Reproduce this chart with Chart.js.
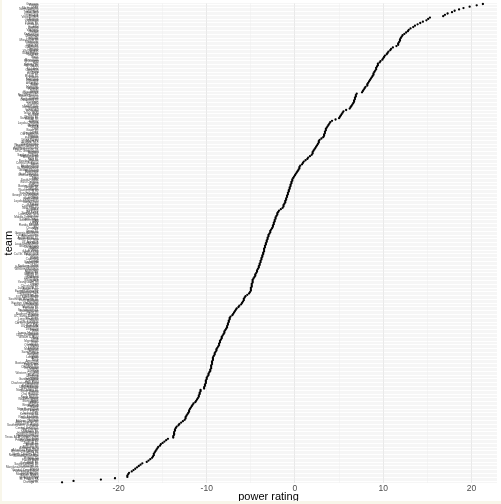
<!DOCTYPE html>
<html>
<head>
<meta charset="utf-8">
<script src="https://cdn.jsdelivr.net/npm/chart.js@4.4.1/dist/chart.umd.min.js"></script>
<style>
  html, body { margin: 0; padding: 0; background: #f8f6ea; }
  #wrap { position: absolute; left: 2px; top: 0; width: 499px; height: 504px; background: #ffffff; }
  #strip { position: absolute; left: 0; top: 501px; width: 501px; height: 3px; background: #f8f6ea; }
</style>
</head>
<body>
<div id="wrap"><canvas id="chart" width="499" height="504"></canvas></div>
<div id="strip"></div>
<script>
// teams, best to worst (top of the plot to the bottom)
const teams = [
  'Gonzaga', 'Virginia', 'Duke', 'Michigan St.', 'North Carolina', 'Michigan', 'Texas Tech', 'Kentucky', 'Tennessee', 'Purdue',
  'Virginia Tech', 'Auburn', 'Houston', 'Wisconsin', 'Iowa St.', 'Florida St.', 'LSU', 'Kansas', 'Wofford', 'Villanova',
  'Buffalo', 'Oregon', 'Kansas St.', 'Maryland', 'Cincinnati', 'Louisville', 'Florida', 'Mississippi St.', 'Marquette', 'Nevada',
  'Syracuse', 'Utah St.', 'Oklahoma', 'Clemson', 'Baylor', 'Washington', "Saint Mary's", 'NC State', 'Ohio St.', 'Texas',
  'Iowa', 'Minnesota', 'Mississippi', 'VCU', 'Seton Hall', 'Arizona St.', "St. John's", 'TCU', 'Alabama', 'Creighton',
  'Belmont', 'UCF', 'Penn St.', 'Murray St.', 'Indiana', 'Nebraska', 'Lipscomb', 'Temple', 'Arkansas', 'Butler',
  'Xavier', 'Memphis', 'Colorado', 'Furman', 'Toledo', 'Providence', 'Georgetown', 'New Mexico St.', 'South Carolina', 'Dayton',
  'Northwestern', 'Oklahoma St.', 'Davidson', 'USC', 'Missouri', 'Saint Louis', 'Notre Dame', 'Georgia', 'Vanderbilt', 'UC Irvine',
  'Texas A&M', 'Yale', 'Harvard', 'Wichita St.', 'San Diego St.', 'Fresno St.', 'Liberty', 'Hofstra', 'Loyola Chicago', 'Stanford',
  'Arizona', 'UCLA', 'Utah', 'Boise St.', 'Drake', 'Georgia St.', 'Old Dominion', 'Rutgers', 'Illinois', 'Pittsburgh',
  'Wake Forest', 'Miami FL', 'Georgia Tech', 'West Virginia', 'Western Kentucky', 'South Dakota St.', 'Northern Kentucky', 'East Tennessee St.', 'UNC Greensboro', 'Vermont',
  'Bradley', 'Southern Illinois', 'Northern Iowa', 'Missouri St.', 'Kent St.', 'Ball St.', 'Bowling Green', 'Central Michigan', 'Akron', 'Northeastern',
  'Rhode Island', 'St. Bonaventure', 'George Mason', 'Richmond', 'Duquesne', "Saint Joseph's", 'Massachusetts', 'UConn', 'Tulsa', 'SMU',
  'South Florida', 'East Carolina', 'Tulane', 'DePaul', 'Boston College', 'Oregon St.', 'California', 'Washington St.', 'BYU', 'San Francisco',
  'Fordham', 'George Washington', 'La Salle',
  'San Diego', 'Pepperdine', 'Loyola Marymount', 'Santa Clara', 'Pacific', 'Portland', 'Colorado St.', 'New Mexico', 'UNLV', 'Wyoming',
  'Air Force', 'San Jose St.', 'Louisiana Tech', 'Marshall', 'Middle Tennessee', 'North Texas', 'Southern Miss', 'UAB', 'UTEP', 'UTSA',
  'Florida Atlantic', 'FIU', 'Charlotte', 'Rice', 'Texas St.', 'Louisiana', 'Georgia Southern', 'Coastal Carolina', 'Arkansas St.', 'Appalachian St.',
  'South Alabama', 'Troy', 'UT Arlington', 'Little Rock', 'Louisiana Monroe', 'Grand Canyon', 'Cal Baptist', 'Seattle', 'UTRGV', 'Utah Valley',
  'Kansas City', 'Cal St. Bakersfield', 'Princeton', 'Penn', 'Brown', 'Columbia', 'Cornell', 'Dartmouth', 'Miami OH', 'Ohio',
  'Northern Illinois', 'Eastern Michigan', 'Western Michigan', 'Valparaiso', 'Evansville', 'Illinois St.', 'Indiana St.', 'Wright St.', 'Oakland', 'Green Bay',
  'Milwaukee', 'IUPUI', 'Youngstown St.', 'Detroit', 'UIC', 'Cleveland St.', 'Jacksonville St.', 'Austin Peay', 'Eastern Kentucky', 'Morehead St.',
  'Tennessee Tech', 'Tennessee St.', 'UT Martin', 'SIU Edwardsville', 'Southeast Missouri St.', 'Eastern Illinois', 'Montana', 'Eastern Washington', 'Weber St.', 'Northern Colorado',
  'Montana St.', 'Portland St.', 'Sacramento St.', 'Southern Utah', 'Idaho St.', 'Northern Arizona', 'Idaho', 'UC Santa Barbara', 'UC Davis', 'Long Beach St.',
  'Hawaii', 'Cal St. Fullerton', 'Cal St. Northridge', 'Cal Poly', 'UC Riverside', 'Charleston', 'Delaware', 'Drexel', 'Elon', 'James Madison',
  'Towson', 'UNC Wilmington', 'William & Mary', 'Iona', 'Siena', 'Monmouth', 'Rider', 'Canisius', 'Quinnipiac', 'Marist',
  'Fairfield', 'Manhattan', 'Niagara', "Saint Peter's", 'Colgate', 'Bucknell', 'Lehigh', 'Lafayette', 'Army', 'Navy',
  'American', 'Boston University', 'Holy Cross', 'Loyola MD', 'Chattanooga', 'The Citadel', 'Mercer', 'Samford', 'VMI', 'Western Carolina',
  'Radford', 'Winthrop', 'Campbell', 'Gardner-Webb', 'Hampton', 'High Point', 'Charleston Southern', 'Longwood', 'Presbyterian', 'UNC Asheville',
  'USC Upstate', 'North Dakota St.', 'South Dakota', 'Omaha', 'Oral Roberts', 'Denver', 'North Dakota', 'Fort Wayne', 'Western Illinois', 'Stony Brook',
  'UMBC', 'Albany', 'Binghamton', 'Hartford', 'Maine', 'New Hampshire', 'UMass Lowell', 'FGCU', 'Jacksonville', 'Kennesaw St.',
  'NJIT', 'North Alabama', 'North Florida', 'Stetson', 'Abilene Christian', 'Sam Houston St.', 'Stephen F. Austin', 'Southeastern Louisiana', 'Lamar', 'Central Arkansas',
  'New Orleans', 'Nicholls St.', 'McNeese St.', 'Houston Baptist', 'Northwestern St.', 'Incarnate Word', 'Texas A&M Corpus Chris', 'Texas Southern', 'Prairie View A&M', 'Grambling St.',
  'Jackson St.', 'Southern', 'Alcorn St.', 'Alabama St.', 'Alabama A&M', 'Arkansas Pine Bluff', 'Mississippi Valley St.', 'Norfolk St.', 'North Carolina A&T', 'North Carolina Central',
  'Bethune-Cookman', 'Morgan St.', 'Howard', 'Florida A&M', 'Coppin St.', 'Savannah St.', 'South Carolina St.', 'Delaware St.', 'Maryland-Eastern Shore', 'Bryant',
  'Central Connecticut', 'Fairleigh Dickinson', 'LIU Brooklyn', "Mount St. Mary's", 'Robert Morris', 'Sacred Heart', 'St. Francis NY', 'St. Francis PA', 'Wagner', 'Chicago St.'
];

// power rating, same order as teams
const rating = [
  21.3, 20.6, 19.8, 19.1, 18.6, 18.1, 17.8, 17.3, 17.0, 16.8,
  15.3, 15.1, 14.9, 14.5, 14.2, 13.9, 13.6, 13.4, 13.1, 12.9,
  12.8, 12.6, 12.4, 12.2, 12.1, 12.0, 11.9, 11.9, 11.8, 11.7,
  11.7, 11.5, 11.1, 10.9, 10.8, 10.6, 10.5, 10.4, 10.2, 10.1,
  10.0, 9.9, 9.7, 9.6, 9.4, 9.4, 9.3, 9.2, 9.2, 9.1,
  9.0, 8.9, 8.9, 8.8, 8.7, 8.6, 8.5, 8.4, 8.3, 8.2,
  8.2, 8.0, 7.9, 7.8, 7.7, 7.6, 7.0, 6.9, 6.9, 6.8,
  6.8, 6.7, 6.7, 6.6, 6.5, 6.4, 6.3, 6.2, 5.8, 5.5,
  5.4, 5.3, 5.2, 5.1, 5.0, 4.6, 4.2, 4.0, 3.9, 3.8,
  3.7, 3.6, 3.5, 3.5, 3.4, 3.4, 3.3, 3.3, 3.2, 3.0,
  2.8, 2.7, 2.7, 2.6, 2.5, 2.4, 2.3, 2.2, 2.1, 2.0,
  2.0, 1.9, 1.7, 1.5, 1.4, 1.2, 1.0, 0.9, 0.8, 0.6,
  0.5, 0.5, 0.4, 0.3, 0.2, 0.1, 0.0, -0.1, -0.2, -0.3,
  -0.3, -0.4, -0.4, -0.5, -0.5, -0.6, -0.6, -0.7, -0.7, -0.8,
  -0.8, -0.9, -0.9, -1.0, -1.0, -1.1, -1.1, -1.2, -1.3, -1.3,
  -1.4, -1.6, -1.8, -1.9, -2.0, -2.0, -2.1, -2.2, -2.2, -2.3,
  -2.3, -2.4, -2.4, -2.5, -2.5, -2.6, -2.7, -2.8, -2.8, -2.9,
  -3.0, -3.0, -3.1, -3.1, -3.2, -3.2, -3.3, -3.3, -3.4, -3.4,
  -3.5, -3.5, -3.5, -3.6, -3.6, -3.7, -3.7, -3.8, -3.8, -3.9,
  -3.9, -4.0, -4.0, -4.1, -4.1, -4.2, -4.3, -4.3, -4.4, -4.5,
  -4.5, -4.6, -4.7, -4.8, -4.8, -4.8, -4.9, -4.9, -4.9, -5.0,
  -5.0, -5.0, -5.1, -5.2, -5.4, -5.6, -5.7, -5.8, -5.8, -5.9,
  -6.0, -6.1, -6.3, -6.4, -6.6, -6.7, -6.8, -6.9, -7.0, -7.1,
  -7.3, -7.4, -7.4, -7.5, -7.5, -7.6, -7.6, -7.7, -7.7, -7.8,
  -7.9, -8.0, -8.0, -8.1, -8.2, -8.3, -8.3, -8.4, -8.5, -8.5,
  -8.6, -8.6, -8.7, -8.8, -8.9, -8.9, -9.0, -9.1, -9.1, -9.2,
  -9.3, -9.3, -9.3, -9.4, -9.4, -9.4, -9.5, -9.5, -9.5, -9.6,
  -9.6, -9.7, -9.8, -9.8, -9.9, -10.0, -10.0, -10.1, -10.1, -10.1,
  -10.2, -10.2, -10.3, -10.3, -10.7, -10.7, -10.8, -10.8, -10.9, -10.9,
  -11.0, -11.1, -11.2, -11.3, -11.5, -11.6, -11.7, -11.8, -11.9, -12.0,
  -12.0, -12.1, -12.2, -12.3, -12.4, -12.4, -12.5, -12.7, -12.9, -13.1,
  -13.2, -13.4, -13.5, -13.6, -13.6, -13.7, -13.7, -13.7, -13.8, -13.8,
  -14.4, -14.6, -14.8, -15.0, -15.2, -15.3, -15.5, -15.6, -15.7, -15.8,
  -15.9, -16.0, -16.0, -16.1, -16.2, -16.4, -16.6, -16.8, -17.3, -17.5,
  -17.7, -17.9, -18.1, -18.3, -18.5, -18.8, -18.9, -19.0, -19.0, -20.4,
  -22.0, -25.1, -26.4
];

const xTicks = [-25, -20, -15, -10, -5, 0, 5, 10, 15, 20];

const points = teams.map((t, i) => ({ x: rating[i], y: t }));

new Chart(document.getElementById('chart'), {
  type: 'scatter',
  data: {
    labels: teams,
    datasets: [{
      data: points,
      backgroundColor: '#000000',
      borderWidth: 0,
      pointRadius: 1.15,
      pointHoverRadius: 1.15
    }]
  },
  options: {
    responsive: false,
    animation: false,
    layout: { padding: { top: 2.6, right: 4, left: 0, bottom: 0 } },
    plugins: { legend: { display: false }, tooltip: { enabled: false } },
    scales: {
      x: {
        type: 'linear',
        min: -28.9,
        max: 22.9,
        afterBuildTicks: (scale) => { scale.ticks = xTicks.map(v => ({ value: v })); },
        afterFit: (scale) => { scale.height = 21; },
        border: { display: false },
        grid: {
          color: (c) => (c.tick && c.tick.value % 10 === 0) ? '#e8e8e8' : '#f2f2f2',
          lineWidth: (c) => (c.tick && c.tick.value % 10 === 0) ? 1 : 0.6,
          drawTicks: false
        },
        ticks: {
          padding: 1,
          color: '#4d4d4d',
          font: { family: 'Liberation Sans, Arial, sans-serif', size: 8.5 },
          callback: (v) => (v % 10 === 0 ? v : ''),
          maxRotation: 0
        },
        title: {
          display: true,
          text: 'power rating',
          color: '#000000',
          padding: { top: 0, bottom: 0 },
          font: { family: 'Liberation Sans, Arial, sans-serif', size: 11 }
        }
      },
      y: {
        type: 'category',
        offset: true,
        afterFit: (scale) => { scale.width = 38; },
        border: { display: false },
        grid: {
          offset: false,
          color: '#ececec',
          lineWidth: 0.5,
          drawTicks: false
        },
        ticks: {
          autoSkip: false,
          padding: 1.5,
          color: '#444444',
          font: { family: 'Liberation Sans, Arial, sans-serif', size: 3 }
        },
        title: {
          display: true,
          text: 'team',
          color: '#000000',
          padding: { top: 0, bottom: 0 },
          font: { family: 'Liberation Sans, Arial, sans-serif', size: 11 }
        }
      }
    }
  }
});
</script>
</body>
</html>
